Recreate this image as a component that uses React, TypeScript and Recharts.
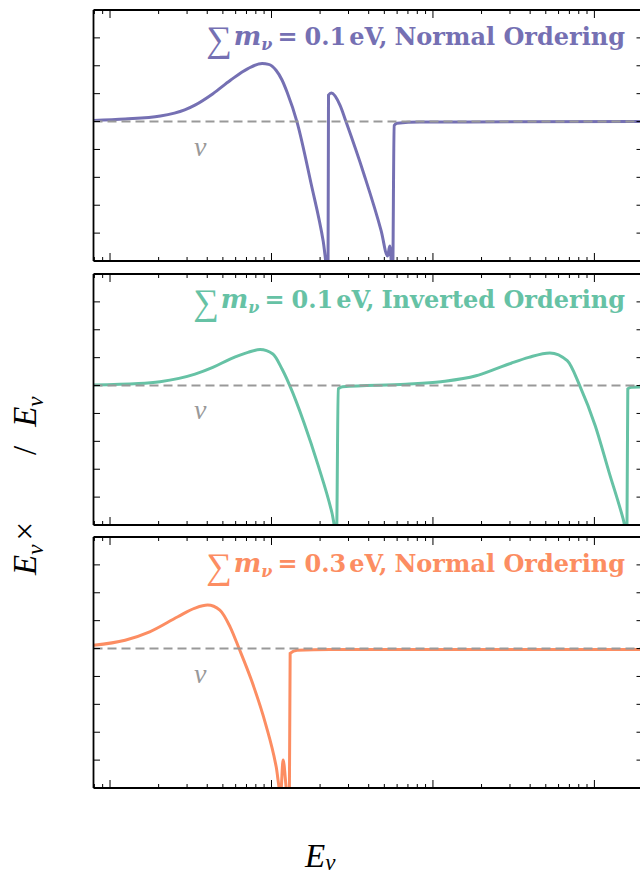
import { Line, LineChart, ReferenceLine, XAxis, YAxis } from "recharts";

// Energy grid (arbitrary units, log axis) and the spectral distortion.
const normal01E = [0.79, 1.24, 2.05, 2.9, 3.38, 4.34, 5.57, 7.15, 8.75, 9.6, 10.67, 11.6, 12.5, 14.4, 17.6, 20.9, 22.4, 22.55, 23.5, 26.6, 29.0, 37.3, 47.8, 52.4, 54.0, 55.7, 56.3, 57.5, 60, 83, 2000];
const normal01V = [0.04, 0.09, 0.2, 0.42, 0.6, 1.0, 1.48, 1.9, 2.08, 2.05, 1.84, 1.5, 1.05, -0.02, -2.23, -4.28, -5.4, 0.95, 1.02, 0.58, -0.02, -1.87, -3.92, -4.82, -4.46, -5.3, -5.5, -0.14, -0.06, -0.02, 0];

const inverted01E = [0.79, 1.5, 2.04, 3.36, 4.33, 5.54, 7.15, 8.5, 10.2, 11.6, 13.0, 15.9, 19.5, 23.7, 25.3, 25.9, 27.6, 68, 112, 185, 238, 305, 392, 530, 679, 811, 1012, 1236, 1508, 1590, 1610, 1700, 2000];
const inverted01V = [0.02, 0.07, 0.14, 0.41, 0.65, 0.95, 1.19, 1.29, 1.13, 0.6, -0.01, -1.33, -2.88, -4.57, -5.3, -0.12, -0.04, 0.05, 0.14, 0.35, 0.57, 0.8, 1.01, 1.17, 0.89, 0, -1.44, -3.13, -4.79, -5.3, -0.12, -0.06, -0.05];

const normal03E = [0.79, 1.24, 1.76, 2.63, 3.36, 4.02, 4.79, 5.54, 6.3, 7.52, 9.18, 10.7, 11.4, 11.8, 12.4, 12.9, 13.05, 14.4, 23, 2000];
const normal03V = [0.12, 0.3, 0.6, 1.14, 1.45, 1.56, 1.38, 0.78, 0, -1.14, -2.69, -4.25, -5.2, -4.0, -5.1, -5.5, -0.17, -0.06, -0.03, -0.03];

const xTicks = [0.8, 0.9, 1, 2, 3, 4, 5, 6, 7, 8, 9, 10, 20, 30, 40, 50, 60, 70, 80, 90, 100, 200, 300, 400, 500, 600, 700, 800, 900, 1000, 2000];
const yTicks = [-4, -3, -2, -1, 0, 1, 2, 3];

const panels = [
  { E: normal01E, V: normal01V, color: "#7570b3", sum: "0.1", order: "Normal Ordering" },
  { E: inverted01E, V: inverted01V, color: "#66c2a5", sum: "0.1", order: "Inverted Ordering" },
  { E: normal03E, V: normal03V, color: "#fc8d62", sum: "0.3", order: "Normal Ordering" },
];

const CHART_W = 636;
const CHART_H = 263.5;
// axes take 1px each, so the plot box sits at margin + 1
const MARGIN = { top: 1, right: 0, bottom: 9.5, left: 84.5 };
const PLOT_TOP = MARGIN.top + 1;
const PLOT_H = CHART_H - MARGIN.top - MARGIN.bottom - 2;

const isDecade = (v: number) => Math.abs(Math.log10(v) - Math.round(Math.log10(v))) < 1e-6;

const XTickMark = (props: any) => {
  const { x, y, payload, side } = props;
  const len = isDecade(payload.value) ? 8 : 4;
  const dir = side === "top" ? 1 : -1;
  return <line x1={x} y1={y} x2={x} y2={y + dir * len} stroke="#000" strokeWidth={1} />;
};

const YTickMark = (props: any) => {
  const { x, y, side } = props;
  const dir = side === "right" ? -1 : 1;
  return <line x1={x} y1={y} x2={x + dir * 6.5} y2={y} stroke="#000" strokeWidth={1} />;
};

const frame = { stroke: "#000", strokeWidth: 1.8 };

const Panel = ({ E, V, color }: { E: number[]; V: number[]; color: string }) => {
  const data = E.map((e, i) => ({ E: e, v: V[i] }));
  return (
    <div style={{ width: CHART_W, height: CHART_H, overflow: "visible" }}>
      <LineChart width={CHART_W} height={CHART_H} data={data} margin={MARGIN} style={{ overflow: "visible", maxWidth: "none" }}>
        <XAxis
          dataKey="E"
          type="number"
          scale="log"
          domain={[0.79, 2000]}
          allowDataOverflow
          ticks={xTicks}
          interval={0}
          height={1}
          tickSize={0}
          tickMargin={0}
          tickLine={false}
          axisLine={frame}
          tick={(p: any) => <XTickMark {...p} side="bottom" />}
        />
        <XAxis
          xAxisId="top"
          orientation="top"
          dataKey="E"
          type="number"
          scale="log"
          domain={[0.79, 2000]}
          allowDataOverflow
          ticks={xTicks}
          interval={0}
          height={1}
          tickSize={0}
          tickMargin={0}
          tickLine={false}
          axisLine={frame}
          tick={(p: any) => <XTickMark {...p} side="top" />}
        />
        <YAxis
          type="number"
          domain={[-5, 4]}
          allowDataOverflow
          ticks={yTicks}
          interval={0}
          width={1}
          tickSize={0}
          tickMargin={0}
          tickLine={false}
          axisLine={frame}
          tick={(p: any) => <YTickMark {...p} side="left" />}
        />
        <YAxis
          yAxisId="right"
          orientation="right"
          type="number"
          domain={[-5, 4]}
          allowDataOverflow
          ticks={yTicks}
          interval={0}
          width={1}
          tickSize={0}
          tickMargin={0}
          tickLine={false}
          axisLine={frame}
          tick={(p: any) => <YTickMark {...p} side="right" />}
        />
        <Line
          type="monotone"
          dataKey="v"
          stroke={color}
          strokeWidth={3}
          dot={false}
          activeDot={false}
          isAnimationActive={false}
        />
        <ReferenceLine y={0} stroke="#999" strokeWidth={2} strokeDasharray="9 5" />
      </LineChart>
    </div>
  );
};

const serif = "'Liberation Serif', 'DejaVu Serif', serif";
const boldSerif = "'DejaVu Serif', serif";

export default function App() {
  return (
    <div style={{ position: "absolute", left: 0, top: 0, width: 640, height: 876, overflow: "hidden", background: "#fff" }}>
      <div style={{ position: "absolute", left: 8, top: 8, width: 640 }}>
        {panels.map((p, i) => (
          <Panel key={i} E={p.E} V={p.V} color={p.color} />
        ))}
      </div>
      <svg
        width={640}
        height={876}
        style={{ position: "absolute", left: 0, top: 0, pointerEvents: "none" }}
      >
        <g transform="translate(8,8)">
          {panels.map((p, i) => {
            const top = i * CHART_H + PLOT_TOP;
            const zeroY = top + (PLOT_H * 4) / 9;
            return (
              <g key={i}>
                <text x={617} y={top + 34.7} textAnchor="end" fill={p.color} fontFamily={boldSerif} fontWeight="bold" fontSize={24}>
                  <tspan fontFamily={serif} fontWeight="normal" fontSize={36} dy={6}>∑</tspan>
                  <tspan fontStyle="italic" fontSize={26} dy={-6} dx={2}>m</tspan>
                  <tspan fontStyle="italic" fontSize={16} dy={5}>ν</tspan>
                  <tspan dy={-5} dx={5}>=</tspan>
                  <tspan dx={7}>{p.sum}</tspan>
                  <tspan dx={3}>eV,</tspan>
                  <tspan dx={7}>{p.order}</tspan>
                </text>
                <text x={186} y={zeroY + 34} fill="#999" fontFamily={serif} fontStyle="italic" fontSize={28}>
                  ν
                </text>
              </g>
            );
          })}
          <g fontFamily={serif} fontSize={33} fill="#000">
            <text transform="translate(28,567) rotate(-90)">
              <tspan fontStyle="italic">E</tspan>
              <tspan fontStyle="italic" fontSize={23} dy={7}>ν</tspan>
              <tspan dy={-7} dx={4}>×</tspan>
            </text>
            <text transform="translate(28,447) rotate(-90)">
              <tspan>/</tspan>
              <tspan fontStyle="italic" dx={19}>E</tspan>
              <tspan fontStyle="italic" fontSize={23} dy={7}>ν</tspan>
            </text>
            <text x={297} y={859}>
              <tspan fontStyle="italic">E</tspan>
              <tspan fontStyle="italic" fontSize={23} dy={3}>ν</tspan>
            </text>
          </g>
        </g>
      </svg>
    </div>
  );
}
